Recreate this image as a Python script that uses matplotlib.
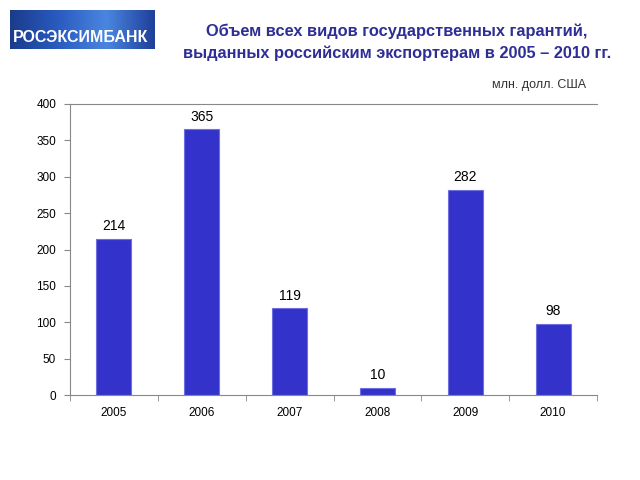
import matplotlib.pyplot as plt
import numpy as np

years = ['2005', '2006', '2007', '2008', '2009', '2010']
values = [214, 365, 119, 10, 282, 98]

plt.rcParams['font.family'] = ['Liberation Sans', 'DejaVu Sans']

fig = plt.figure(figsize=(6.4, 4.8), dpi=100)
fig.patch.set_facecolor('white')

# logo
lax = fig.add_axes([10 / 640, 1 - 49 / 480, 145 / 640, 39 / 480])
grad = np.linspace(0, 1, 200)
img = np.outer(np.ones(40), grad)
lax.imshow(img, cmap=plt.matplotlib.colors.LinearSegmentedColormap.from_list(
    'logo', ['#1a3c8c', '#2a5bc0', '#4a86e0', '#1f3f9a']), aspect='auto',
    extent=[0, 1, 0, 1])
lax.text(0.02, 0.3, 'РОСЭКСИМБАНК', color='white', fontsize=11.5,
         fontweight='bold', va='center', ha='left')
lax.set_xlim(0, 1)
lax.set_ylim(0, 1)
lax.axis('off')

# titles
fig.text(397 / 640, 1 - 31 / 480, 'Объем всех видов государственных гарантий,',
         ha='center', va='center', fontsize=11.8, fontweight='bold', color='#2e2e96')
fig.text(397 / 640, 1 - 53 / 480, 'выданных российским экспортерам в 2005 – 2010 гг.',
         ha='center', va='center', fontsize=11.8, fontweight='bold', color='#2e2e96')
fig.text(586 / 640, 1 - 85 / 480, 'млн. долл. США', ha='right', va='center',
         fontsize=9, color='#333333')

ax = fig.add_axes([70 / 640, 1 - 395 / 480, 527 / 640, 291 / 480])
x = np.arange(len(years))
bars = ax.bar(x, values, width=0.4, color='#3333cc', edgecolor='#6f6fe0',
              linewidth=0.8)
for xi, v in zip(x, values):
    ax.text(xi, v + 8, str(v), ha='center', va='bottom', fontsize=10, color='black')

ax.set_xlim(-0.5, len(years) - 0.5)
ax.set_ylim(0, 400)
ax.set_yticks(range(0, 401, 50))
ax.set_xticks(x)
ax.set_xticklabels(years)
ax.set_xticks(np.arange(-0.5, len(years), 1), minor=True)
ax.tick_params(axis='x', which='major', length=0, labelsize=8.5, pad=9)
ax.tick_params(axis='x', which='minor', length=4, color='#888888')
ax.tick_params(axis='y', length=4, color='#888888', labelsize=8.5, pad=6)

for s in ['left', 'bottom', 'top']:
    ax.spines[s].set_color('#888888')
    ax.spines[s].set_linewidth(0.8)
ax.spines['right'].set_visible(False)

fig.savefig('out.png', dpi=100)
